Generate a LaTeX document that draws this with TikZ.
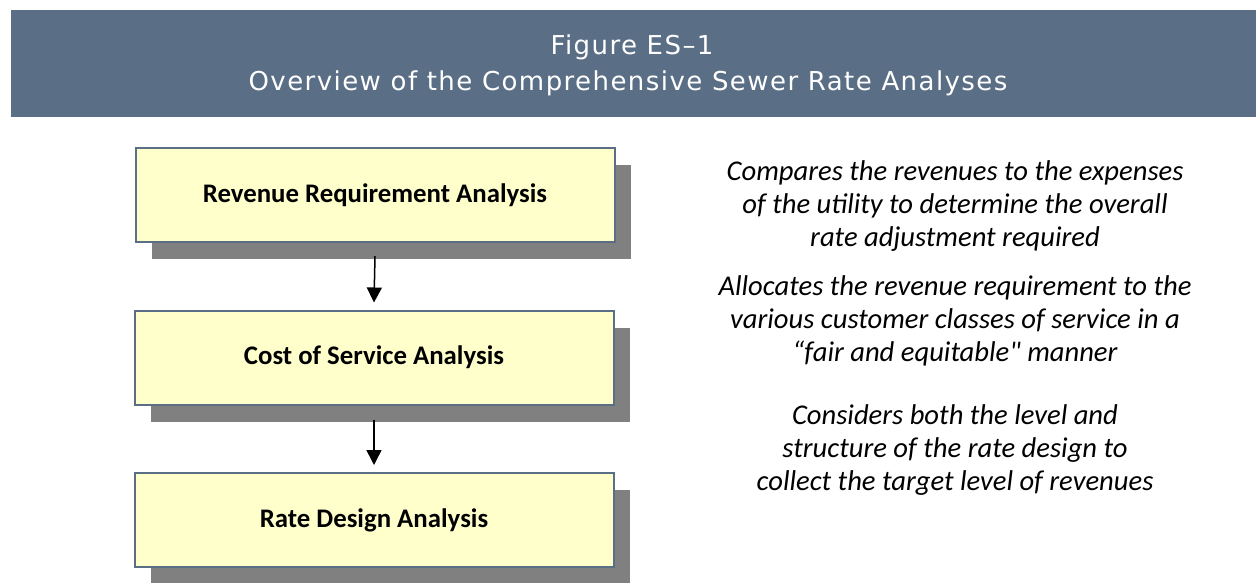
\documentclass[tikz,border=0pt]{standalone}
\usepackage{fontspec}
\setmainfont{Carlito}
\newfontfamily\headfont{DejaVu Sans}[LetterSpace=5.5]
\newfontfamily\notefont{Carlito}
\usetikzlibrary{arrows.meta,shadows}
\definecolor{slate}{RGB}{90,110,134}
\definecolor{boxfill}{RGB}{255,255,204}
\definecolor{shadowgray}{RGB}{128,128,128}

\begin{document}
\begin{tikzpicture}[x=1pt,y=-1pt]%
                    \useasboundingbox (0,0) rectangle (1256,583); %%
                    \fill[slate] (11,10) rectangle (1256,117); %%
                    \begin{scope}
                        \tikzstyle{every node}=[anchor=base,text=white,font=\headfont\fontsize{26}{30}\selectfont];%%
                        \node (title) at (632,55) {Figure ES–1}; %%
                        \node (subtitle) at (628,91) {Overview of the Comprehensive Sewer Rate Analyses}; %%
                    \end{scope}
                    \begin{scope}
                        \tikzstyle{every node}=[draw=slate,line width=2pt,fill=boxfill,minimum width=479pt,minimum height=94pt,font=\bfseries\fontsize{26.8}{30}\selectfont,drop shadow={shadow xshift=16pt,shadow yshift=-17pt,fill=shadowgray,opacity=1}];%%
                        \node (rev) at (375,195) {Revenue Requirement Analysis}; %%
                        \node (cos) at (374,357.5) {Cost of Service Analysis}; %%
                        \node (rate) at (374,520) {Rate Design Analysis}; %%
                    \end{scope}
                    \begin{scope}
                        \tikzstyle{every node}=[align=center,font=\notefont\itshape\fontsize{28.6}{32.7}\selectfont];%%
                        \node (revnote) at (955,206) {Compares the revenues to the expenses\\of the utility to determine the overall\\rate adjustment required}; %%
                        \node (cosnote) at (955,321) {Allocates the revenue requirement to the\\various customer classes of service in a\\“fair and equitable" manner}; %%
                        \node (ratenote) at (955,450) {Considers both the level and\\structure of the rate design to\\collect the target level of revenues}; %%
                    \end{scope}
                        \draw[-{Triangle[width=15pt,length=15pt]},line width=1.5pt] ([yshift=-13pt]rev.south) -- ([yshift=7pt]cos.north); %%
                        \draw[-{Triangle[width=15pt,length=15pt]},line width=1.5pt] ([yshift=-14pt]cos.south) -- ([yshift=7pt]rate.north); %%
                    \end{tikzpicture}
\end{document}
